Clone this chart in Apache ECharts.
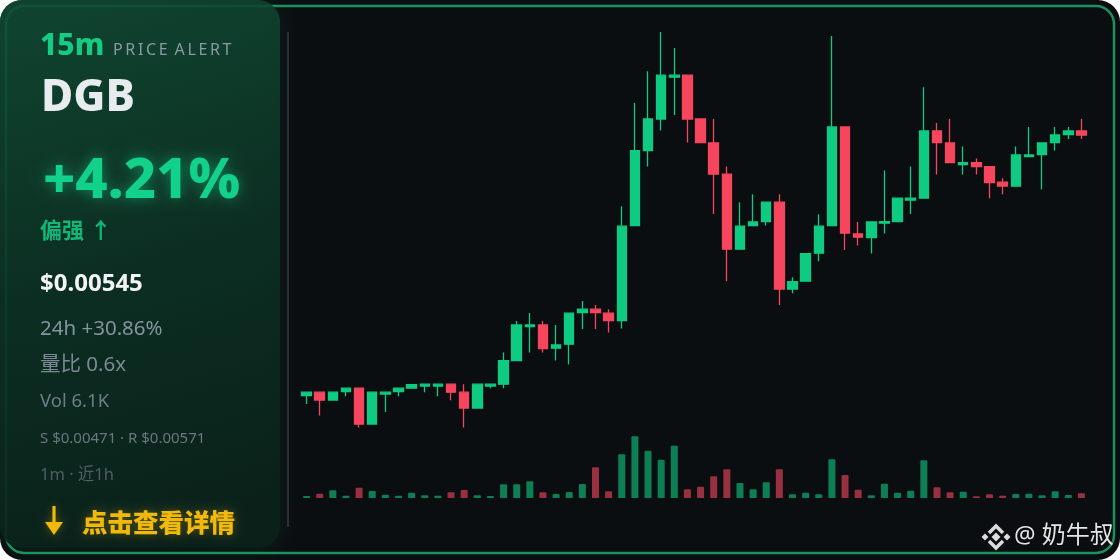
<!DOCTYPE html>
<html>
<head>
<meta charset="utf-8">
<script src="https://cdn.jsdelivr.net/npm/echarts@6/dist/echarts.min.js"></script>
<style>
html,body{margin:0;padding:0;background:#ffffff;}
#c{width:1120px;height:560px;}
</style>
</head>
<body>
<div id="c"></div>
<script>
// ---- data (1-minute candles, last hour) ----
const opens = [0.004147,0.004164,0.004125,0.004167,0.004184,0.004005,0.004155,0.004167,0.004184,0.004195,
0.004195,0.004204,0.004164,0.004085,0.004195,0.004204,0.004322,0.004492,0.004500,0.004384,
0.004404,0.004562,0.004579,0.004559,0.004522,0.004997,0.005372,0.005530,0.005739,0.005749,
0.005530,0.005410,0.005254,0.004879,0.004997,0.005017,0.005114,0.004680,0.004719,0.004859,
0.004997,0.005490,0.004955,0.004937,0.005009,0.005017,0.005125,0.005134,0.005470,0.005410,
0.005302,0.005312,0.005292,0.005214,0.005194,0.005342,0.005352,0.005412,0.005452,0.005470];
const closes = [0.004164,0.004125,0.004164,0.004184,0.004005,0.004164,0.004164,0.004184,0.004202,0.004204,
0.004204,0.004164,0.004085,0.004204,0.004204,0.004322,0.004500,0.004500,0.004382,0.004400,
0.004559,0.004579,0.004562,0.004522,0.004994,0.005372,0.005530,0.005749,0.005749,0.005530,
0.005412,0.005254,0.004879,0.004994,0.005015,0.005114,0.004680,0.004717,0.004857,0.004994,
0.005490,0.004959,0.004939,0.005015,0.005017,0.005134,0.005134,0.005470,0.005412,0.005312,
0.005312,0.005292,0.005212,0.005195,0.005350,0.005350,0.005410,0.005450,0.005470,0.005450];
const lows = [0.004105,0.004047,0.004125,0.004144,0.003987,0.004005,0.004065,0.004144,0.004184,0.004164,
0.004144,0.004124,0.003987,0.004085,0.004184,0.004184,0.004322,0.004362,0.004362,0.004322,
0.004302,0.004480,0.004480,0.004462,0.004482,0.004997,0.005292,0.005472,0.005550,0.005412,
0.005412,0.005055,0.004719,0.004879,0.004997,0.004997,0.004600,0.004659,0.004719,0.004819,
0.004997,0.004875,0.004897,0.004857,0.004957,0.005017,0.005055,0.005134,0.005252,0.005312,
0.005252,0.005252,0.005134,0.005154,0.005194,0.005342,0.005177,0.005372,0.005430,0.005430];
const highs = [0.004165,0.004164,0.004164,0.004184,0.004184,0.004164,0.004164,0.004184,0.004202,0.004204,
0.004204,0.004204,0.004204,0.004204,0.004204,0.004362,0.004520,0.004560,0.004520,0.004500,
0.004559,0.004620,0.004600,0.004579,0.005094,0.005610,0.005769,0.005965,0.005885,0.005749,
0.005530,0.005530,0.005292,0.005114,0.005154,0.005114,0.005154,0.004739,0.004857,0.005054,
0.005945,0.005490,0.005015,0.005015,0.005272,0.005134,0.005292,0.005689,0.005510,0.005530,
0.005392,0.005332,0.005292,0.005234,0.005392,0.005490,0.005410,0.005490,0.005490,0.005530];
const volumesK = [2.6,5.6,10.0,3.0,13.4,9.1,4.3,3.0,6.9,3.5,
3.0,7.4,10.4,3.5,2.6,17.8,17.8,21.7,7.4,5.2,
7.8,18.2,39.9,8.7,56.8,80.2,61.5,49.8,68.0,11.3,
14.7,28.2,37.3,19.5,11.3,20.4,37.3,4.8,6.9,4.8,
50.3,29.9,10.8,3.5,18.6,6.9,9.5,49.0,13.9,7.4,
8.2,2.2,4.8,3.0,5.2,5.6,3.5,8.7,3.9,6.1];
const categories = opens.map((_, i) => '10:' + String(i).padStart(2, '0'));

// ---- panel texts ----
const tfLabel = '15m';
const alertLabel = 'P\u2009R\u2009I\u2009C\u2009E\u2009 A\u2009L\u2009E\u2009R\u2009T';
const symbol = 'DGB';
const changeText = '+4.21%';
const biasText = '偏强 ↑';
const priceText = '$0.00545';
const dayText = '24h +30.86%';
const volRatioText = '量比 0.6x';
const volText = 'Vol 6.1K';
const srText = 'S $0.00471 · R $0.00571';
const rangeText = '1m · 近1h';
const ctaText = '点击查看详情';
const watermark = '@ 奶牛叔';

const UP = '#0ecb81', DOWN = '#f6465d';
const UPV = '#0d7f54', DOWNV = '#98303f';
const YEL = '#f0b90b';
const FF = "'Noto Sans','Noto Sans CJK SC',sans-serif";

const candleData = opens.map((o, i) => [o, closes[i], lows[i], highs[i]]);
const volData = volumesK.map((v, i) => ({
  value: v,
  itemStyle: { color: closes[i] >= opens[i] ? UPV : DOWNV }
}));

function txt(text, x, y, size, weight, color, extra) {
  return {
    type: 'text', z: 20, silent: true,
    style: Object.assign({
      text: text, x: x, y: y, fill: color,
      font: weight + ' ' + size + 'px ' + FF,
      textAlign: 'left', textVerticalAlign: 'middle'
    }, extra || {})
  };
}

const chart = echarts.init(document.getElementById('c'), null, { renderer: 'canvas' });
chart.setOption({
  animation: false,
  backgroundColor: 'transparent',
  grid: [
    { left: 300, top: 23, width: 788, height: 410 },
    { left: 300, top: 430, width: 788, height: 68 }
  ],
  xAxis: [
    { type: 'category', data: categories, gridIndex: 0, boundaryGap: true, show: false },
    { type: 'category', data: categories, gridIndex: 1, boundaryGap: true, show: false }
  ],
  yAxis: [
    { type: 'value', gridIndex: 0, min: 0.00396, max: 0.00601, show: false, splitLine: { show: false } },
    { type: 'value', gridIndex: 1, min: 0, max: 88.4, show: false, splitLine: { show: false } }
  ],
  series: [
    {
      type: 'candlestick', xAxisIndex: 0, yAxisIndex: 0, data: candleData,
      barWidth: 10, z: 5,
      itemStyle: { color: UP, color0: DOWN, borderColor: UP, borderColor0: DOWN, borderWidth: 1.3 }
    },
    {
      type: 'bar', xAxisIndex: 1, yAxisIndex: 1, data: volData, barWidth: 7, z: 5,
      itemStyle: { borderRadius: [1, 1, 0, 0] }
    }
  ],
  graphic: [
    // card
    { type: 'rect', z: -30, silent: true, shape: { x: 0, y: 0, width: 1120, height: 560, r: 22 }, style: { fill: '#0b0e11' } },
    { type: 'rect', z: -29, silent: true, shape: { x: 6, y: 6, width: 1108, height: 547, r: 18 }, style: { fill: 'none', stroke: '#18935f', lineWidth: 2.5 } },
    // left panel
    { type: 'rect', z: -20, silent: true, shape: { x: 0, y: 0, width: 280, height: 548, r: 22 },
      style: {
        fill: { type: 'linear', x: 0, y: 0, x2: 0.6, y2: 1, colorStops: [
          { offset: 0, color: 'rgba(16,74,51,0.88)' },
          { offset: 0.5, color: 'rgba(12,48,35,0.9)' },
          { offset: 1, color: 'rgba(10,32,24,0.92)' }
        ] },
        shadowBlur: 18, shadowColor: 'rgba(14,203,129,0.12)'
      } },
    // divider
    { type: 'line', z: -10, silent: true, shape: { x1: 288, y1: 32, x2: 288, y2: 527 }, style: { stroke: '#2a2f36', lineWidth: 2 } },
    // texts
    txt(tfLabel, 40, 46.5, 30, '800', '#14cc84'),
    txt(alertLabel, 113, 50, 16, '400', '#8a9aa3'),
    txt(symbol, 41, 98.5, 44, '800', '#e9ecef'),
    txt(changeText, 43, 182, 56, '800', '#12d18a', { textShadowColor: 'rgba(14,203,129,0.55)', textShadowBlur: 14 }),
    txt(biasText, 40, 232, 22, '700', '#12b778'),
    txt(priceText, 40, 284, 24, '700', '#f2f4f5'),
    txt(dayText, 40, 329, 20.5, '400', '#8592a0'),
    txt(volRatioText, 40, 365, 20.5, '400', '#7c8995'),
    txt(volText, 40, 402, 18.5, '400', '#6f7c88'),
    txt(srText, 40, 439, 15, '400', '#6a7682'),
    txt(rangeText, 40, 475, 16.5, '400', '#4e5d68'),
    // CTA arrow
    { type: 'group', z: 20, silent: true, children: [
      { type: 'line', shape: { x1: 54, y1: 506, x2: 54, y2: 526 }, style: { stroke: YEL, lineWidth: 3.2, shadowColor: 'rgba(240,185,11,0.35)', shadowBlur: 8 } },
      { type: 'polygon', shape: { points: [[45, 522], [63, 522], [54, 535]] }, style: { fill: YEL, shadowColor: 'rgba(240,185,11,0.35)', shadowBlur: 8 } }
    ] },
    txt(ctaText, 82, 525, 25.5, '800', YEL, { textShadowColor: 'rgba(240,185,11,0.35)', textShadowBlur: 10 }),
    // watermark logo (Binance-like)
    { type: 'group', z: 20, silent: true, x: 996, y: 537, children: [
      { type: 'polygon', shape: { points: [[0,-4.5],[4.5,0],[0,4.5],[-4.5,0]] }, style: { fill: '#dcdcdc' } },
      { type: 'polygon', shape: { points: [[-11,-3.5],[-7.5,0],[-11,3.5],[-14.5,0]] }, style: { fill: '#dcdcdc' } },
      { type: 'polygon', shape: { points: [[11,-3.5],[14.5,0],[11,3.5],[7.5,0]] }, style: { fill: '#dcdcdc' } },
      { type: 'polyline', shape: { points: [[-7,-4],[0,-11],[7,-4]] }, style: { stroke: '#dcdcdc', lineWidth: 3.5, fill: 'none' } },
      { type: 'polyline', shape: { points: [[-7,4],[0,11],[7,4]] }, style: { stroke: '#dcdcdc', lineWidth: 3.5, fill: 'none' } }
    ] },
    txt(watermark, 1014, 536, 24, '400', '#e4e4e4', { textShadowColor: 'rgba(0,0,0,0.6)', textShadowBlur: 3 })
  ]
});
</script>
</body>
</html>
